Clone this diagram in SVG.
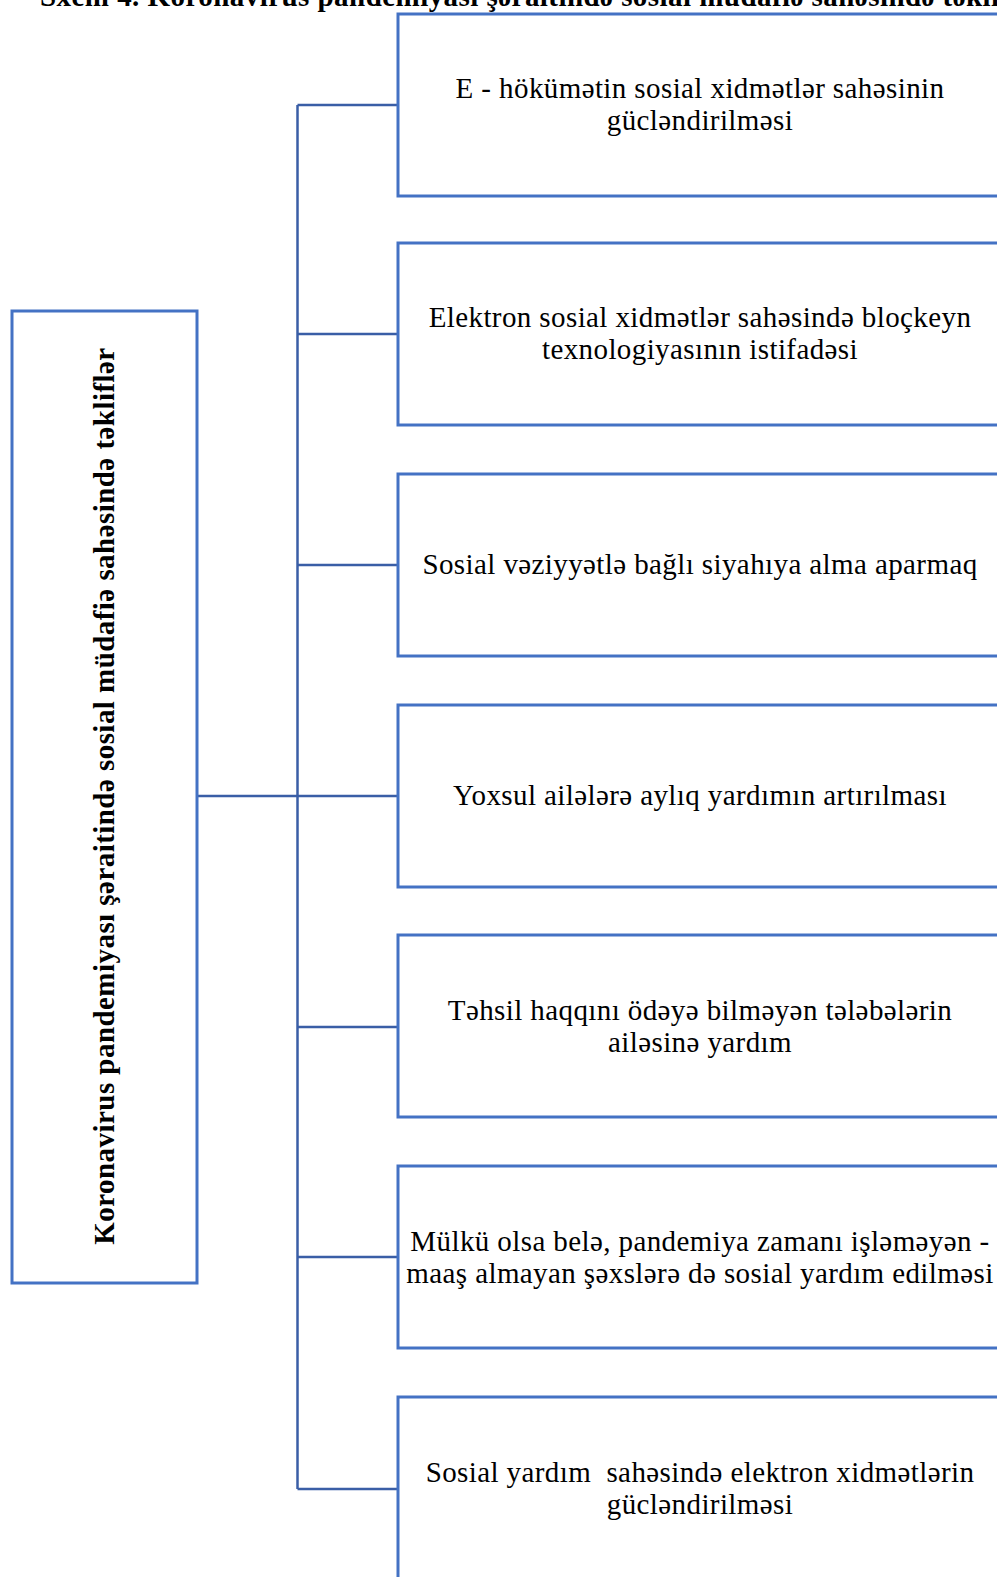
<svg xmlns="http://www.w3.org/2000/svg" width="997" height="1577" viewBox="0 0 997 1577">
<style>
.box{fill:#fff;stroke:#4472C4;stroke-width:3}
.con{fill:none;stroke:#3A5EA6;stroke-width:2.5}
.t{font-family:"Liberation Serif","Times New Roman",serif;font-size:29px;letter-spacing:0.4px;fill:#000;text-anchor:middle;white-space:pre}
.b{font-family:"Liberation Serif","Times New Roman",serif;font-size:29px;letter-spacing:0.45px;font-weight:bold;fill:#000}
</style>
<rect width="997" height="1577" fill="#fff"/>
<text class="b" x="40" y="6">Sxem 4. Koronavirus pandemiyası şəraitində sosial müdafiə sahəsində təkliflər</text>
<g id="connectors">
<path class="con" d="M197,796 H398"/>
<path class="con" d="M297.5,105 V1489"/>
<path class="con" d="M297.5,105 H398 M297.5,334 H398 M297.5,565 H398 M297.5,1027 H398 M297.5,1257 H398 M297.5,1489 H398"/>
</g>
<g id="root">
<rect class="box" x="12" y="311" width="185" height="972"/>
<text class="b" transform="translate(114,796) rotate(-90)" text-anchor="middle">Koronavirus pandemiyası şəraitində sosial müdafiə sahəsində təkliflər</text>
</g>
<g id="n1">
<rect class="box" x="398" y="14" width="620" height="182"/>
<text class="t" x="700" y="98">E - hökümətin sosial xidmətlər sahəsinin</text>
<text class="t" x="700" y="130">gücləndirilməsi</text>
</g>
<g id="n2">
<rect class="box" x="398" y="243" width="620" height="182"/>
<text class="t" x="700" y="327">Elektron sosial xidmətlər sahəsində bloçkeyn</text>
<text class="t" x="700" y="359">texnologiyasının istifadəsi</text>
</g>
<g id="n3">
<rect class="box" x="398" y="474" width="620" height="182"/>
<text class="t" x="700" y="574">Sosial vəziyyətlə bağlı siyahıya alma aparmaq</text>
</g>
<g id="n4">
<rect class="box" x="398" y="705" width="620" height="182"/>
<text class="t" x="700" y="805">Yoxsul ailələrə aylıq yardımın artırılması</text>
</g>
<g id="n5">
<rect class="box" x="398" y="935" width="620" height="182"/>
<text class="t" x="700" y="1020">Təhsil haqqını ödəyə bilməyən tələbələrin</text>
<text class="t" x="700" y="1052">ailəsinə yardım</text>
</g>
<g id="n6">
<rect class="box" x="398" y="1166" width="620" height="182"/>
<text class="t" x="700" y="1251">Mülkü olsa belə, pandemiya zamanı işləməyən -</text>
<text class="t" x="700" y="1283">maaş almayan şəxslərə də sosial yardım edilməsi</text>
</g>
<g id="n7">
<rect class="box" x="398" y="1397" width="620" height="200"/>
<text class="t" x="700" y="1482">Sosial yardım  sahəsində elektron xidmətlərin</text>
<text class="t" x="700" y="1514">gücləndirilməsi</text>
</g>
</svg>
